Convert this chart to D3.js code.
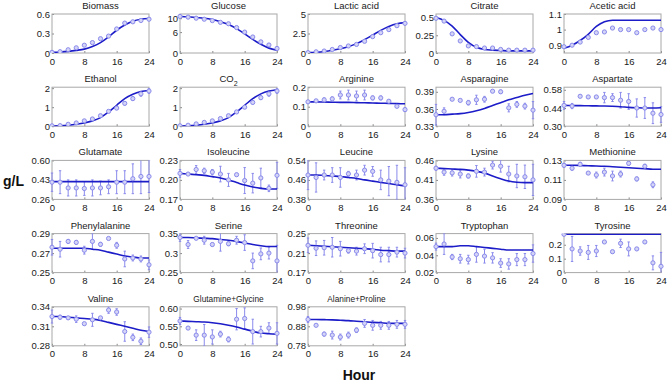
<!DOCTYPE html>
<html><head><meta charset="utf-8">
<script src="https://cdn.jsdelivr.net/npm/d3@7"></script>
<style>body{margin:0;background:#fff}svg{display:block}</style>
</head><body>
<svg id="chart" width="667" height="383"></svg>
<script>
const times = [0,2,4,6,8,10,12,14,16,18,20,22,24];
const xTicks = [0,8,16,24];
const panelNames = ["Biomass","Glucose","Lactic acid","Citrate","Acetic acid",
  "Ethanol","CO2","Arginine","Asparagine","Aspartate",
  "Glutamate","Isoleucine","Leucine","Lysine","Methionine",
  "Phenylalanine","Serine","Threonine","Tryptophan","Tyrosine",
  "Valine","Glutamine+Glycine","Alanine+Proline"];
const yDomains = [[0,0.6],[0,11.2],[0,5],[0,0.55],[0.85,1.1],
  [0,2.05],[0,2.05],[0,0.2],[0.33,0.398],[0.30,0.60],
  [0.26,0.60],[0.17,0.23],[0.38,0.54],[0.36,0.46],[0.09,0.13],
  [0.25,0.29],[0.25,0.35],[0.17,0.25],[0.02,0.065],[0,0.28],
  [0.28,0.34],[0.495,0.605],[0.78,0.98]];
const yTicks = [[0,0.3,0.6],[0,6,10],[0,2.5,5],[0,0.25,0.5],[0.9,1,1.1],
  [0,1,2],[0,1,2],[0,0.1,0.2],[0.33,0.36,0.39],[0.30,0.44,0.58],
  [0.26,0.43,0.60],[0.17,0.20,0.23],[0.38,0.46,0.54],[0.36,0.41,0.46],[0.09,0.11,0.13],
  [0.25,0.27,0.29],[0.25,0.3,0.35],[0.17,0.21,0.25],[0.02,0.04,0.06],[0,0.1,0.2],
  [0.28,0.31,0.34],[0.50,0.55,0.60],[0.78,0.88,0.98]];
const yTickLabels = [["0","0.3","0.6"],["0","6","10"],["0","2.5","5"],["0","0.25","0.5"],["0.9","1","1.1"],
  ["0","1","2"],["0","1","2"],["0","0.1","0.2"],["0.33","0.36","0.39"],["0.30","0.44","0.58"],
  ["0.26","0.43","0.60"],["0.17","0.20","0.23"],["0.38","0.46","0.54"],["0.36","0.41","0.46"],["0.09","0.11","0.13"],
  ["0.25","0.27","0.29"],["0.25","0.3","0.35"],["0.17","0.21","0.25"],["0.02","0.04","0.06"],["0","0.1","0.2"],
  ["0.28","0.31","0.34"],["0.50","0.55","0.60"],["0.78","0.88","0.98"]];
const modelValues = [
  [0.01,0.015,0.025,0.04,0.06,0.1,0.16,0.25,0.35,0.43,0.49,0.52,0.53],
  [10.5,10.4,10.2,10.0,9.6,9.0,8.2,7.0,5.5,3.9,2.5,1.4,0.8],
  [0.05,0.1,0.2,0.35,0.55,0.8,1.2,1.7,2.3,2.9,3.4,3.75,3.9],
  [0.5,0.46,0.38,0.26,0.15,0.08,0.05,0.04,0.035,0.03,0.03,0.03,0.03],
  [0.88,0.9,0.93,0.97,1.02,1.05,1.06,1.06,1.06,1.06,1.06,1.06,1.06],
  [0.01,0.02,0.05,0.1,0.17,0.28,0.45,0.75,1.1,1.45,1.68,1.82,1.88],
  [0.01,0.02,0.05,0.1,0.17,0.28,0.45,0.75,1.1,1.45,1.7,1.85,1.92],
  [0.125,0.125,0.124,0.123,0.122,0.122,0.121,0.12,0.119,0.118,0.117,0.116,0.115],
  [0.35,0.35,0.351,0.352,0.354,0.357,0.361,0.366,0.371,0.376,0.38,0.384,0.387],
  [0.46,0.459,0.458,0.457,0.456,0.455,0.453,0.45,0.445,0.442,0.44,0.44,0.442],
  [0.415,0.415,0.415,0.415,0.415,0.415,0.415,0.415,0.415,0.415,0.415,0.415,0.415],
  [0.21,0.209,0.208,0.207,0.205,0.203,0.2,0.196,0.192,0.189,0.187,0.186,0.186],
  [0.48,0.48,0.478,0.476,0.474,0.47,0.466,0.46,0.455,0.45,0.445,0.44,0.435],
  [0.44,0.439,0.438,0.437,0.435,0.432,0.428,0.42,0.413,0.407,0.404,0.403,0.403],
  [0.125,0.125,0.1248,0.1245,0.1243,0.124,0.1235,0.123,0.1225,0.122,0.1215,0.121,0.121],
  [0.275,0.275,0.275,0.275,0.275,0.274,0.273,0.271,0.269,0.267,0.266,0.265,0.265],
  [0.34,0.34,0.339,0.338,0.337,0.335,0.333,0.33,0.326,0.322,0.319,0.317,0.317],
  [0.226,0.225,0.224,0.223,0.222,0.221,0.22,0.219,0.218,0.216,0.215,0.214,0.214],
  [0.05,0.05,0.05,0.051,0.051,0.05,0.049,0.048,0.047,0.046,0.046,0.046,0.046],
  [0.275,0.275,0.275,0.275,0.275,0.275,0.275,0.275,0.275,0.275,0.275,0.275,0.275],
  [0.325,0.325,0.324,0.323,0.322,0.321,0.319,0.316,0.313,0.31,0.307,0.304,0.302],
  [0.565,0.564,0.563,0.562,0.56,0.557,0.553,0.548,0.542,0.536,0.531,0.529,0.528],
  [0.915,0.915,0.914,0.913,0.911,0.909,0.906,0.903,0.9,0.898,0.896,0.895,0.895]
];
const measured = [
  [0.01,0.02,0.05,0.08,0.12,0.16,0.22,0.26,0.37,0.46,0.48,0.5,0.52],
  [10.5,10.3,10.0,9.7,9.3,8.8,8.4,7.3,6.0,4.6,3.2,2.3,1.3],
  [0.05,0.15,0.25,0.45,0.7,0.9,1.1,1.5,2.1,2.6,3.0,3.5,3.8],
  [0.49,0.45,0.27,0.17,0.1,0.09,0.07,0.07,0.05,0.04,0.04,0.04,0.04],
  [0.89,0.9,0.92,0.95,0.98,0.985,1.01,1.0,1.0,0.98,1.0,1.01,1.0],
  [0.02,0.03,0.1,0.17,0.28,0.38,0.55,0.78,0.95,1.2,1.45,1.7,1.85],
  [0.02,0.05,0.12,0.2,0.28,0.4,0.55,0.75,1.0,1.25,1.5,1.7,1.85],
  [0.125,0.13,0.135,0.14,0.16,0.16,0.155,0.16,0.145,0.145,0.128,0.102,0.085],
  [0.35,0.356,0.377,0.375,0.371,0.376,0.377,0.391,0.39,0.362,0.368,0.365,0.358],
  [0.46,0.455,0.53,0.525,0.525,0.52,0.52,0.5,0.49,0.44,0.44,0.4,0.39],
  [0.41,0.41,0.36,0.36,0.355,0.36,0.36,0.37,0.41,0.41,0.44,0.46,0.46],
  [0.21,0.209,0.216,0.214,0.212,0.209,0.2,0.208,0.199,0.195,0.203,0.187,0.207],
  [0.48,0.47,0.48,0.48,0.47,0.485,0.48,0.5,0.495,0.46,0.455,0.45,0.44],
  [0.44,0.43,0.428,0.425,0.42,0.432,0.43,0.448,0.445,0.425,0.42,0.418,0.41],
  [0.125,0.122,0.126,0.117,0.115,0.118,0.114,0.116,0.127,0.111,0.124,0.105,null],
  [0.276,0.274,0.282,0.281,0.273,0.282,0.279,0.285,0.278,0.264,0.265,0.264,0.258],
  [0.34,0.322,0.338,0.333,0.322,0.33,0.324,0.333,0.327,0.28,0.298,0.3,0.28],
  [0.226,0.22,0.221,0.222,0.219,0.215,0.214,0.219,0.215,0.207,0.207,0.212,0.21],
  [0.05,0.053,0.038,0.036,0.035,0.041,0.039,0.037,0.031,0.03,0.035,0.035,0.042],
  [0.275,0.17,0.155,0.145,0.155,0.22,0.15,0.21,0.17,0.17,0.22,0.07,0.045],
  [0.325,0.324,0.323,0.321,0.314,0.32,0.323,0.335,0.332,0.302,0.293,0.287,0.301],
  [0.565,0.545,0.525,0.525,0.52,0.528,0.513,0.57,0.572,0.535,0.535,0.545,0.53],
  [0.915,0.885,0.84,0.835,0.825,0.835,0.86,0.895,0.885,0.885,0.885,0.89,0.89]
];
const errors = [
  [0.005,0.005,0.005,0.005,0.006,0.006,0.008,0.008,0.01,0.01,0.01,0.01,0.01],
  [0.15,0.15,0.15,0.15,0.15,0.15,0.15,0.2,0.2,0.3,0.3,0.4,0.5],
  [0.05,0.05,0.05,0.05,0.05,0.05,0.08,0.1,0.1,0.12,0.15,0.15,0.15],
  [0.01,0.01,0.01,0.01,0.01,0.01,0.01,0.01,0.01,0.01,0.01,0.01,0.01],
  [0.005,0.005,0.005,0.005,0.005,0.005,0.005,0.005,0.005,0.005,0.005,0.005,0.005],
  [0.02,0.02,0.03,0.03,0.03,0.04,0.04,0.05,0.06,0.08,0.1,0.12,0.12],
  [0.02,0.02,0.03,0.03,0.03,0.04,0.04,0.05,0.06,0.08,0.1,0.12,0.12],
  [0.005,0.005,0.01,0.01,0.02,0.025,0.025,0.025,0.01,0.01,0.005,0.005,0.01],
  [0.018,0.006,0.002,0.002,0.004,0.008,0.005,0.002,0.003,0.007,0.005,0.005,0.015],
  [0.03,0.02,0.01,0.01,0.01,0.04,0.03,0.06,0.06,0.07,0.08,0.08,0.06],
  [0.08,0.1,0.07,0.07,0.06,0.07,0.06,0.06,0.1,0.1,0.13,0.15,0.14],
  [0.006,0.002,0.006,0.004,0.004,0.012,0.01,0.002,0.02,0.015,0.015,0.005,0.02],
  [0.06,0.06,0.02,0.03,0.04,0.01,0.02,0.02,0.02,0.04,0.06,0.07,0.07],
  [0.005,0.008,0.008,0.01,0.005,0.015,0.01,0.01,0.015,0.02,0.03,0.03,0.04],
  [0.002,0.002,0.002,0.001,0.003,0.004,0.005,0.003,0.002,0.002,0.002,0.003,0],
  [0.008,0.008,0.002,0.002,0.004,0.008,0.002,0.001,0.003,0.008,0.003,0.003,0.005],
  [0.01,0.01,0.002,0.01,0.004,0.025,0.005,0.01,0.02,0.02,0.015,0.015,0.04],
  [0.015,0.015,0.015,0.02,0.015,0.005,0.008,0.01,0.015,0.015,0.015,0.01,0.01],
  [0.004,0.012,0.003,0.005,0.005,0.009,0.008,0.006,0.005,0.006,0.007,0.007,0.01],
  [0,0.09,0.03,0.05,0.04,0.005,0.01,0.03,0.05,0.01,0.01,0.05,0.1],
  [0.01,0.003,0.002,0.005,0.002,0.01,0.002,0.005,0.005,0.015,0.005,0.005,0.008],
  [0.01,0.004,0.015,0.03,0.02,0.008,0.007,0.03,0.03,0.035,0.015,0.015,0.03],
  [0.015,0.005,0.01,0.02,0.015,0.015,0.012,0.02,0.025,0.02,0.02,0.02,0.02]
];

const svg = d3.select("#chart");
const W = 97, H = 39;
const colStep = 128, rowStep = 73.2, left0 = 52, top0 = 14;
const lineColor = "#1c1cc8", markColor = "#8a8aec";
const font = "Liberation Sans, Arial, sans-serif";

panelNames.forEach((name, i) => {
  const col = i % 5, row = Math.floor(i / 5);
  const gx = left0 + col * colStep, gy = top0 + row * rowStep;
  const g = svg.append("g").attr("transform", `translate(${gx},${gy})`);
  const x = d3.scaleLinear().domain([0, 24]).range([0, W]);
  const y = d3.scaleLinear().domain(yDomains[i]).range([H, 0]);

  g.append("clipPath").attr("id", "clip" + i)
    .append("rect").attr("x", -3).attr("y", 0).attr("width", W + 6).attr("height", H);

  const xa = g.append("g").attr("transform", `translate(0,${H})`)
    .call(d3.axisBottom(x).tickValues(xTicks).tickSize(-2).tickPadding(3).tickFormat(d3.format("d")));
  const ya = g.append("g")
    .call(d3.axisLeft(y).tickValues(yTicks[i]).tickSize(-2).tickPadding(2)
      .tickFormat((d, k) => yTickLabels[i][k]));
  [xa, ya].forEach(a => {
    a.select(".domain").remove();
    a.selectAll("line").attr("stroke", "#888");
    a.selectAll("text").attr("fill", "#1a1a1a").style("font-family", font).style("font-size", "9.5px");
  });
  xa.selectAll("text").attr("dy", "0.9em");
  g.append("rect").attr("width", W).attr("height", H)
    .attr("fill", "none").attr("stroke", "#a8a8a8").attr("stroke-width", 1);

  const t = g.append("text").attr("x", W / 2).attr("y", -5).attr("text-anchor", "middle")
    .attr("fill", "#1a1a1a").style("font-family", font)
    .style("font-size", name.length > 14 ? "8.3px" : "9.5px");
  if (name === "CO2") {
    t.append("tspan").text("CO");
    t.append("tspan").attr("baseline-shift", "sub").style("font-size", "7px").text("2");
  } else t.text(name);

  const plot = g.append("g").attr("clip-path", `url(#clip${i})`);
  const pts = times.map((tt, k) => ({t: tt, v: measured[i][k], e: errors[i][k]})).filter(d => d.v !== null);

  pts.filter(d => d.e > 0).forEach(d => {
    const cx = x(d.t), y1 = y(d.v - d.e), y2 = y(d.v + d.e);
    plot.append("line").attr("x1", cx).attr("x2", cx).attr("y1", y1).attr("y2", y2)
      .attr("stroke", markColor).attr("stroke-width", 1);
    [y1, y2].forEach(yy => plot.append("line").attr("x1", cx - 1.2).attr("x2", cx + 1.2)
      .attr("y1", yy).attr("y2", yy).attr("stroke", markColor).attr("stroke-width", 1));
  });
  plot.append("path")
    .datum(times.map((tt, k) => [tt, modelValues[i][k]]))
    .attr("fill", "none").attr("stroke", lineColor).attr("stroke-width", 1.6)
    .attr("d", d3.line().x(d => x(d[0])).y(d => y(d[1])).curve(d3.curveMonotoneX));
  plot.selectAll("circle.pt").data(pts).join("circle")
    .attr("cx", d => x(d.t)).attr("cy", d => y(d.v)).attr("r", 2.1)
    .attr("fill", "#d4d4f7").attr("stroke", markColor).attr("stroke-width", 1);
});

svg.append("text").attr("x", 3).attr("y", 186).text("g/L")
  .style("font-family", font).style("font-weight", "bold").style("font-size", "14px").attr("fill", "#111");
svg.append("text").attr("x", 359).attr("y", 380).attr("text-anchor", "middle").text("Hour")
  .style("font-family", font).style("font-weight", "bold").style("font-size", "14px").attr("fill", "#111");
</script>
</body></html>
